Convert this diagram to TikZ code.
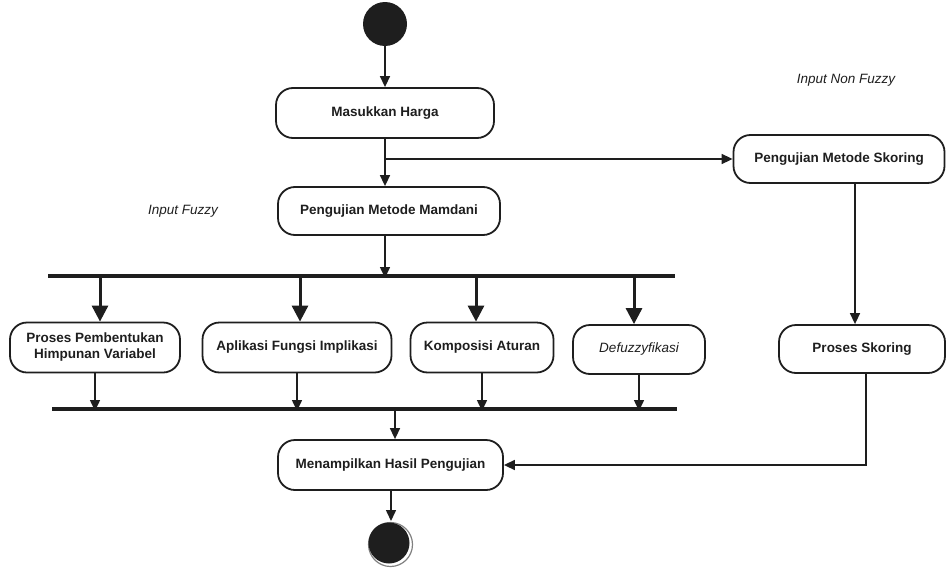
\documentclass[tikz,border=0pt]{standalone}
\usepackage{fontspec}
\setmainfont{Liberation Sans}
\usetikzlibrary{arrows.meta}
\definecolor{ink}{HTML}{1E1E1E}
\begin{document}
\begin{tikzpicture}[x=1pt,y=-1pt,
  box/.style={draw=ink, line width=1.8pt, rounded corners=17pt, align=center,
     font=\fontsize{13.5}{16}\selectfont\bfseries, text=ink, inner sep=0pt},
  lbl/.style={font=\fontsize{13.5}{16}\selectfont\itshape, text=ink},
  thin/.style={draw=ink, line width=1.5pt, -{Triangle[length=11pt,width=10pt]}},
  thick/.style={draw=ink, line width=3pt, -{Triangle[length=16pt,width=16pt]}},
  bar/.style={draw=ink, line width=4pt}]
\useasboundingbox (0,0) rectangle (947,570);

% start / end
\node[circle, fill=ink, minimum size=44pt, inner sep=0pt] (start) at (385,24) {};
\node[circle, draw=gray, line width=1.2pt, minimum size=44pt, inner sep=0pt] (endring) at (390.5,544.5) {};
\node[circle, fill=ink, minimum size=41pt, inner sep=0pt] (end) at (389,543) {};

% boxes
\node[box, minimum width=218pt, minimum height=50pt] (harga) at (385,113) {Masukkan Harga};
\node[box, minimum width=222pt, minimum height=48pt] (mamdani) at (389,211) {Pengujian Metode Mamdani};
\node[box, minimum width=211pt, minimum height=48pt] (skoring) at (839,159) {Pengujian Metode Skoring};
\node[box, minimum width=166pt, minimum height=48pt] (pskoring) at (862,349) {Proses Skoring};
\node[box, minimum width=170pt, minimum height=50pt] (himp) at (95,347.5) {Proses Pembentukan\\Himpunan Variabel};
\node[box, minimum width=189pt, minimum height=50pt] (apl) at (297,347.5) {Aplikasi Fungsi Implikasi};
\node[box, minimum width=143pt, minimum height=50pt] (komp) at (482,347.5) {Komposisi Aturan};
\node[box, minimum width=132pt, minimum height=49pt, font=\fontsize{13.5}{16}\selectfont\itshape] (defuz) at (639,349.5) {Defuzzyfikasi};
\node[box, minimum width=225pt, minimum height=50pt] (hasil) at (390.5,465) {Menampilkan Hasil Pengujian};

% labels
\node[lbl] (lfuzzy) at (183,211) {Input Fuzzy};
\node[lbl] (lnonfuzzy) at (846,80) {Input Non Fuzzy};

% bars
\coordinate (forkL) at (48,276);
\coordinate (forkR) at (675,276);
\coordinate (joinL) at (52,409);
\coordinate (joinR) at (677,409);
\draw[bar] (forkL) -- (forkR);
\draw[bar] (joinL) -- (joinR);

% connectors
\draw[thin] (start) -- (harga);
\draw[thin] (harga.south -| 385,0) -- (mamdani.north -| 385,0);
\coordinate (branch) at (385,159);
\draw[thin] (branch) -- (skoring.west);
\draw[thin] (mamdani.south -| 385,0) -- ([yshift=-2pt]forkL -| 385,0);

\foreach \xx/\nn in {100/himp, 300/apl, 476/komp, 634/defuz}{
  \coordinate (f\nn) at (\xx,276);
  \draw[thick] (f\nn) -- (f\nn |- \nn.north);
  \draw[thin] (\nn.south) -- ([yshift=-2pt]\nn.south |- joinL);
}
\coordinate (jout) at (395,409);
\draw[thin] (jout) -- (jout |- hasil.north);
\draw[thin] (hasil.south -| 391,0) -- (391,521);

\draw[thin] ([xshift=16pt]skoring.south) -- ([xshift=16pt]skoring.south |- pskoring.north);
\draw[thin] ([xshift=4pt]pskoring.south) |- (hasil.east);
\end{tikzpicture}
\end{document}
